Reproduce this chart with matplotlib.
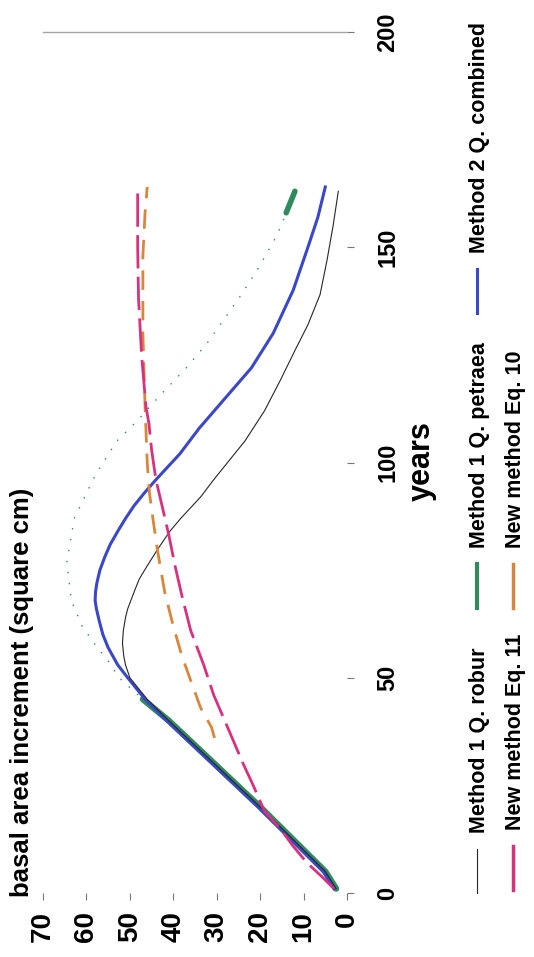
#basal area increment vs stand age, drawn in the rotated (portrait) layout of the scanned figure
#x axis = basal area increment (reversed), y axis = years

import matplotlib
matplotlib.use("Agg")
import matplotlib.pyplot as plt
from matplotlib.lines import Line2D

plt.rcParams['font.family'] = ['Liberation Sans', 'DejaVu Sans']
plt.rcParams['font.weight'] = 'bold'

##data (years, basal area increment in cm^2)##
years_robur = [1, 5, 10, 20, 30, 40, 45, 50, 53, 55, 58, 61, 64, 66, 70, 73, 76, 80, 84, 87, 92, 96, 100, 105, 112, 119, 126, 132, 139, 147, 155, 163]
bai_robur = [2.5, 5, 10, 20, 30.5, 41, 46, 50, 51, 51.4, 51.7, 51.5, 51, 50.5, 49, 47.8, 46, 43.5, 40.8, 38.3, 33.7, 30.7, 27.5, 23.5, 19, 15.4, 12, 9, 6.2, 4.6, 3.2, 2]

years_petraea = [1, 5, 10, 20, 30, 40, 45, 50, 54, 57, 62, 68, 77, 87, 97, 105, 110, 115, 122, 128, 138, 145, 153, 158, 163]
bai_petraea = [2.5, 5, 10, 20, 30.5, 41, 47, 52.5, 55, 57.5, 61, 63.5, 64.5, 62.8, 58, 53, 48, 43.6, 37, 32, 25, 20.5, 16, 14, 12]

years_combined = [1, 5, 10, 20, 30, 40, 45, 50, 53, 57, 60, 63, 66, 68, 70, 72, 75, 78, 81, 84, 87, 90, 93, 96, 102, 108, 115, 122, 130, 140, 150, 157, 164]
bai_combined = [3, 5.5, 10.5, 20.5, 31, 41.5, 46.5, 50.5, 52.8, 55, 56.2, 57, 57.7, 58, 57.9, 57.6, 56.9, 55.8, 54.5, 52.8, 51, 49, 46.6, 44, 38.5, 34, 28, 22, 17, 12.4, 9, 6.7, 5]

years_eq11 = [1, 4, 7, 11, 15, 19, 25, 30, 38.5, 46, 53, 61, 69, 76, 83, 90, 96, 103, 109, 113, 125, 138, 150, 164]
bai_eq11 = [3, 6, 9.2, 12.5, 15.4, 19, 21.6, 23.9, 27.5, 30.7, 33, 36, 38, 39.6, 41, 42.6, 44, 45, 45.6, 46.3, 47.3, 48, 48.2, 48.2]

years_eq10 = [36, 38.5, 43, 48, 55, 62, 70, 80, 87, 93, 100, 113, 130, 148, 158, 164]
bai_eq10 = [30.5, 31.2, 33.7, 35.5, 38, 40, 42, 43.7, 44.7, 45.5, 46, 46.5, 47, 47, 46.5, 46]

bai_ticks = [0, 10, 20, 30, 40, 50, 60, 70]
year_ticks = [0, 50, 100, 150, 200]

leg_labels = ["Method 1 Q. robur", "Method 1 Q. petraea", "Method 2 Q. combined",
              "New method Eq. 11", "New method Eq. 10"]

c_robur = "#262626"
c_petraea = "#2f8a5c"
c_combined = "#3b47c9"
c_eq11 = "#d9307f"
c_eq10 = "#d9863c"

W, H = 534, 957
def fx(px):
    return px / W
def fy(py):
    return 1 - py / H

fig = plt.figure(figsize=(W / 100, H / 100), dpi=100)
ax = fig.add_axes([fx(43), fy(893), fx(347) - fx(43), fy(32) - fy(893)])

#petraea: faded dotted over most of its length, solid where the print kept it
ax.plot(bai_petraea, years_petraea, color=c_petraea, lw=1, linestyle=(0, (1, 7)))
ax.plot(bai_petraea[:7], years_petraea[:7], color=c_petraea, lw=4.5, solid_capstyle="round")
ax.plot(bai_petraea[-2:], years_petraea[-2:], color=c_petraea, lw=4, solid_capstyle="round")
ax.plot(bai_combined, years_combined, color=c_combined, lw=2.2)
ax.plot(bai_robur, years_robur, color=c_robur, lw=0.8)
ax.plot(bai_eq10, years_eq10, color=c_eq10, lw=2, dashes=(7, 4))
ax.plot(bai_eq11, years_eq11, color=c_eq11, lw=2, dashes=(12, 3))

ax.set_xlim(70, 0)
ax.set_ylim(0, 200)

ax.set_xticks(bai_ticks)
ax.set_xticklabels([str(v) for v in bai_ticks], rotation=90, fontsize=20, fontweight="bold")
ax.tick_params(axis="x", direction="out", length=5, width=0.8, color="#777777", pad=8)

ax.yaxis.tick_right()
ax.set_yticks(year_ticks)
ax.set_yticklabels([str(v) for v in year_ticks], rotation=90, va="center", fontsize=17, fontweight="bold")
ax.tick_params(axis="y", direction="out", length=5, width=0.8, color="#777777", pad=16)

for side in ["left", "right", "bottom"]:
    ax.spines[side].set_visible(False)
ax.spines["top"].set_color("#a5a5a5")
ax.spines["top"].set_linewidth(1)

fig.text(fx(22), fy(897), "basal area increment (square cm)", rotation=90,
         ha="center", va="bottom", fontsize=18.5, fontweight="bold")
fig.text(fx(422), fy(461), "years", rotation=90, ha="center", va="center",
         fontsize=22, fontweight="bold")

##hand made legend, rotated with the rest of the figure##
leg_colors = [c_robur, c_petraea, c_combined, c_eq11, c_eq10]
leg_widths = [0.8, 3, 2.2, 2.5, 2.5]
leg_pos = [(479, 833), (479, 548), (479, 253), (515, 830), (515, 548)]
for label, col, lw, (x, y0) in zip(leg_labels, leg_colors, leg_widths, leg_pos):
    fig.add_artist(Line2D([fx(x - 2), fx(x - 2)], [fy(y0 + 16), fy(y0 + 60)],
                          transform=fig.transFigure, color=col, lw=lw))
    fig.text(fx(x), fy(y0), label, rotation=90, ha="center", va="bottom",
             fontsize=15.5, fontweight="bold")

plt.savefig("out.png", dpi=100)
